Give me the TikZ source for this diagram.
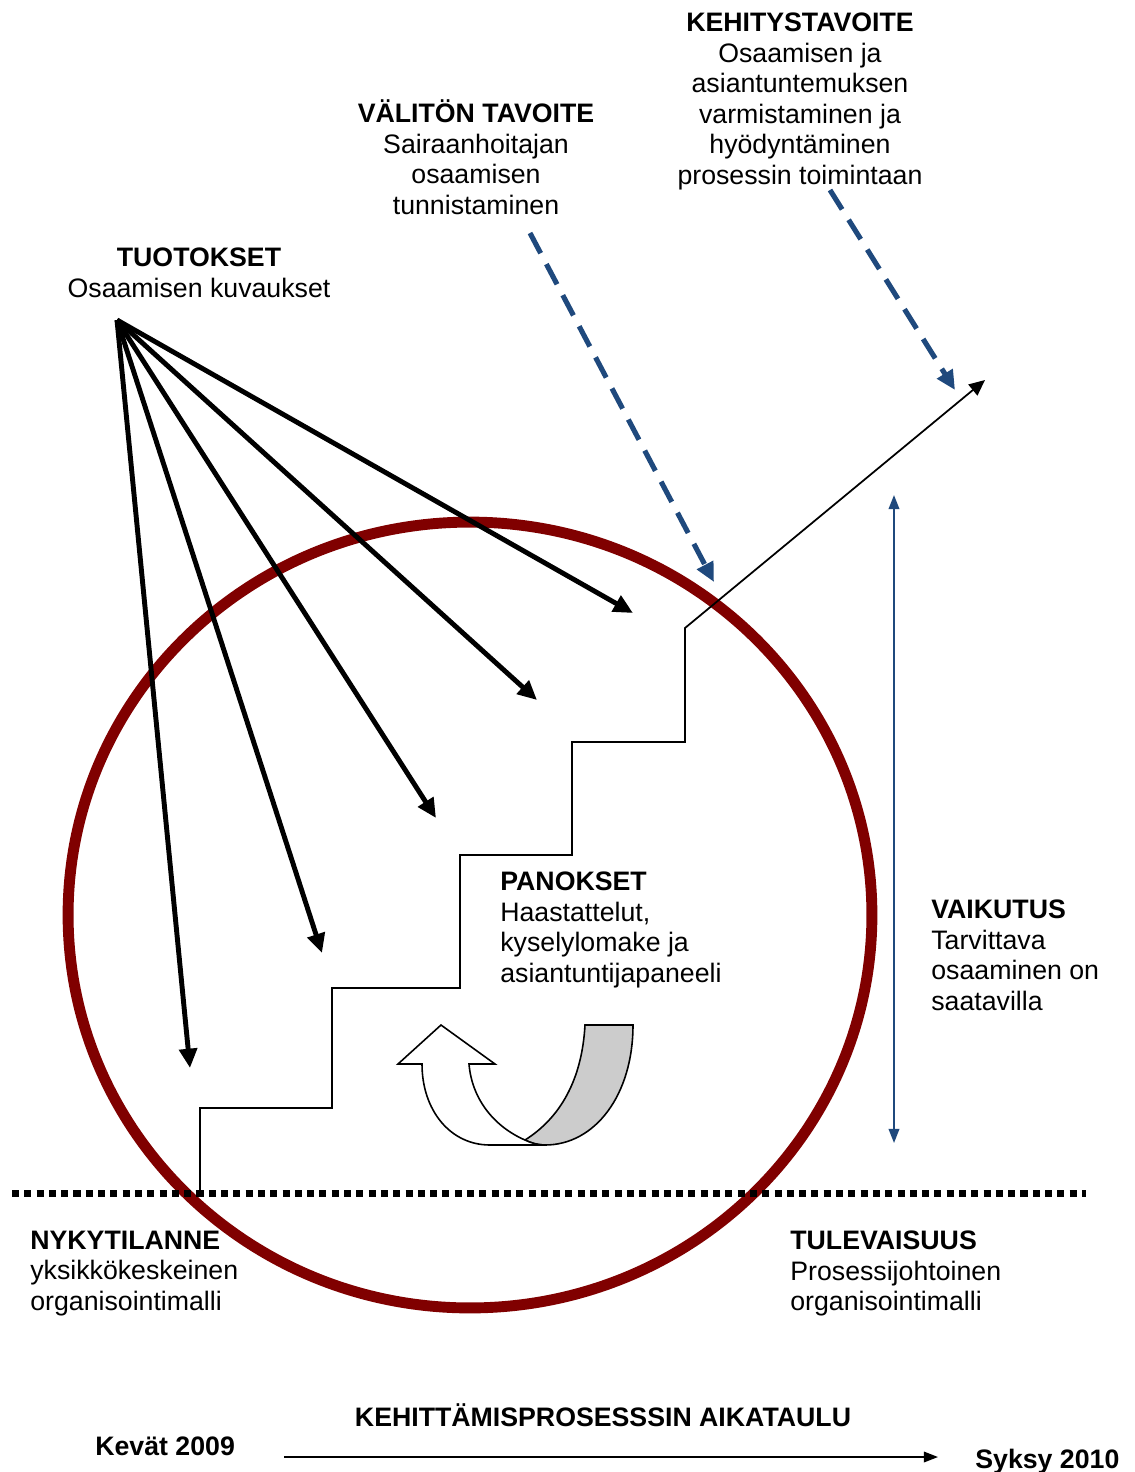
\documentclass[tikz,border=0pt]{standalone}
\usepackage{fontspec}
\setmainfont{Liberation Sans}
\usepackage{tikz}
\usetikzlibrary{arrows.meta}
\definecolor{ringred}{RGB}{128,0,0}
\definecolor{goalblue}{RGB}{31,73,125}
\definecolor{turngray}{RGB}{204,204,204}

\begin{document}
\begin{tikzpicture}[x=0.02cm,y=-0.02cm,
    txt/.style={inner sep=0pt,font=\fontsize{15.2}{17.4}\selectfont},
    fan/.style={line width=2.8pt,-{Triangle[length=11pt,width=10pt]}},
    goal/.style={draw=goalblue,line width=2.9pt,dash pattern=on 13pt off 7pt,
      -{Triangle[length=11pt,width=10pt]}},
    stair/.style={line width=1pt,-{Triangle[length=9pt,width=8pt]}},
    impact/.style={draw=goalblue,line width=1.1pt,{Triangle[length=8pt,width=6pt]}-{Triangle[length=8pt,width=6pt]}},
    timeline/.style={line width=0.9pt,-{Triangle[length=8pt,width=6pt]}}]
      \useasboundingbox (0,0) rectangle (1134,1472);
      \draw[ringred,line width=6.2pt] (470,915) ellipse [x radius=8.04cm,y radius=7.86cm];
      \draw[line width=4pt,dash pattern=on 4pt off 3pt] (12,1193) -- (1086,1193);
      \coordinate (s0) at (200,1193);
      \coordinate (reach) at (985,380);
      \draw[stair] (s0) |- (332,1108) |- (460,988) |- (572,855) |- (685,742) -- (685,628) -- (reach);
      \coordinate (src) at (117,320);
      \coordinate (out1) at (633,613);
      \coordinate (out2) at (537,700);
      \coordinate (out3) at (436,818);
      \coordinate (out4) at (322,953);
      \coordinate (out5) at (190,1068);
      \foreach \t in {out1,out2,out3,out4,out5}
        \draw[fan] (src) -- (\t);
      \coordinate (g1a) at (530,233);
      \coordinate (g1b) at (714,582);
      \coordinate (g2a) at (830,190);
      \coordinate (g2b) at (955,390);
      \draw[goal] (g1a) -- (g1b);
      \draw[goal] (g2a) -- (g2b);
      \coordinate (vtop) at (894,495);
      \coordinate (vbot) at (894,1143);
      \draw[impact] (vtop) -- (vbot);
      \coordinate (start) at (284,1457);
      \coordinate (end) at (938,1457);
      \draw[timeline] (start) -- (end);
      \filldraw[fill=turngray,line width=0.9pt] (585,1025) -- (633,1025)
        .. controls (633,1095) and (595,1145) .. (545,1145)
        .. controls (538,1145) and (531,1143) .. (525,1140)
        .. controls (560,1118) and (582,1080) .. (585,1025) -- cycle;
      \filldraw[fill=white,line width=0.9pt] (545,1145) -- (490,1145)
        .. controls (450,1145) and (422,1110) .. (422,1064)
        -- (398,1064) -- (441,1025) -- (495,1064) -- (469,1064)
        .. controls (472,1100) and (495,1127) .. (525,1140)
        .. controls (531,1143) and (538,1145) .. (545,1145) -- cycle;
      \node[txt,anchor=north,align=center] (kehitys) at (800,12.5)
        {\textbf{KEHITYSTAVOITE}\\Osaamisen ja\\asiantuntemuksen\\varmistaminen ja\\hyödyntäminen\\prosessin toimintaan};
      \node[txt,anchor=north,align=center] (valiton) at (476,99.5)
        {\textbf{VÄLITÖN TAVOITE}\\Sairaanhoitajan\\osaamisen\\tunnistaminen};
      \node[txt,anchor=north,align=center] (tuotokset) at (199,247.5)
        {\textbf{TUOTOKSET}\\Osaamisen kuvaukset};
      \node[txt,anchor=north west,align=left] (panokset) at (500,871.5)
        {\textbf{PANOKSET}\\Haastattelut,\\kyselylomake ja\\asiantuntijapaneeli};
      \node[txt,anchor=north west,align=left] (vaikutus) at (931,899.5)
        {\textbf{VAIKUTUS}\\Tarvittava\\osaaminen on\\saatavilla};
      \node[txt,anchor=north west,align=left] (nyky) at (30,1230.5)
        {\textbf{NYKYTILANNE}\\yksikkökeskeinen\\organisointimalli};
      \node[txt,anchor=north west,align=left] (tuleva) at (790,1230.5)
        {\textbf{TULEVAISUUS}\\Prosessijohtoinen\\organisointimalli};
      \node[txt,anchor=base] (aikataulu) at (603,1426.5) {\textbf{KEHITTÄMISPROSESSSIN AIKATAULU}};
      \node[txt,anchor=base west] (kevat) at (95,1455.5) {\textbf{Kevät 2009}};
      \node[txt,anchor=base west] (syksy) at (975,1468.5) {\textbf{Syksy 2010}};
\end{tikzpicture}
\end{document}
